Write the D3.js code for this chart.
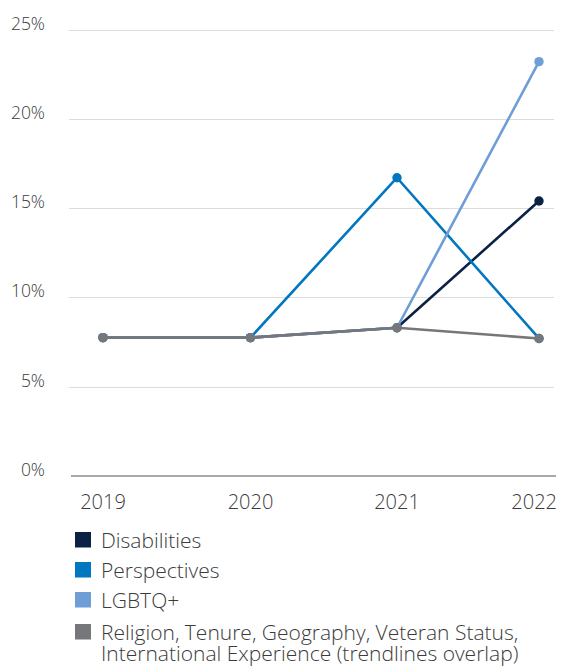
<!DOCTYPE html>
<html>
<head>
<meta charset="utf-8">
<script src="https://cdn.jsdelivr.net/npm/d3@7"></script>
<style>
  html, body { margin: 0; padding: 0; background: #fff; }
  svg { display: block; font-family: "Open Sans", sans-serif; font-weight: 300; }
</style>
</head>
<body>
<svg id="chart" width="561" height="666"></svg>
<script>
// Share of employees by dimension, 2019–2022 (percent)
const years = ["2019", "2020", "2021", "2022"];
const disabilities = [7.75, 7.75, 8.3, 15.4];
const perspectives = [7.75, 7.75, 16.7, 7.7];
const lgbtq = [7.75, 7.75, 8.3, 23.2];
const otherDims = [7.75, 7.75, 8.3, 7.7];
const yTicks = [0, 5, 10, 15, 20, 25];
const seriesNames = [
  "Disabilities",
  "Perspectives",
  "LGBTQ+",
  "Religion, Tenure, Geography, Veteran Status,|International Experience (trendlines overlap)"
];
const seriesColors = ["#0b2244", "#0077c0", "#6f9ed6", "#76777a"];

const series = [disabilities, perspectives, lgbtq, otherDims].map((vals, i) => ({
  name: seriesNames[i],
  color: seriesColors[i],
  points: vals.map((v, j) => ({ year: years[j], value: v }))
}));

const svg = d3.select("#chart");

const x = d3.scaleOrdinal()
  .domain(years)
  .range([103, 250.5, 397, 539]);

const y = d3.scaleLinear()
  .domain([0, 25])
  .range([476, 29.5]);

// Horizontal gridlines
svg.append("g")
  .selectAll("line")
  .data(yTicks.filter(d => d > 0))
  .join("line")
  .attr("x1", 69).attr("x2", 554)
  .attr("y1", d => Math.round(y(d)) + 0.5)
  .attr("y2", d => Math.round(y(d)) + 0.5)
  .attr("stroke", "#dcdcdc")
  .attr("stroke-width", 1);

// Baseline
svg.append("line")
  .attr("x1", 71).attr("x2", 556)
  .attr("y1", y(0)).attr("y2", y(0))
  .attr("stroke", "#8c8c8c")
  .attr("stroke-width", 1.6);

// Y labels sit on their gridlines
svg.append("g")
  .selectAll("text")
  .data(yTicks)
  .join("text")
  .attr("x", 45)
  .attr("y", d => y(d))
  .attr("text-anchor", "end")
  .attr("font-size", 17.5)
  .attr("fill", "#3b3b3b")
  .text(d => d + "%");

// X labels
const xl = svg.append("g")
  .selectAll("text")
  .data(years)
  .join("text")
  .attr("x", d => x(d))
  .attr("y", 509)
  .attr("text-anchor", "middle")
  .attr("font-size", 20)
  .attr("fill", "#3b3b3b")
  .text(d => d);
// keep the last label inside the plot edge
xl.each(function () {
  const b = this.getBBox();
  if (b.x + b.width > 557) {
    d3.select(this).attr("x", +d3.select(this).attr("x") - (b.x + b.width - 557));
  }
});

// Lines and markers
const line = d3.line()
  .x(d => x(d.year))
  .y(d => y(d.value));

const sg = svg.append("g")
  .selectAll("g")
  .data(series)
  .join("g");

sg.append("path")
  .attr("d", d => line(d.points))
  .attr("fill", "none")
  .attr("stroke", d => d.color)
  .attr("stroke-width", 2.6)
  .attr("stroke-linejoin", "round");

sg.selectAll("circle")
  .data(d => d.points.map(p => ({ ...p, color: d.color })))
  .join("circle")
  .attr("cx", d => x(d.year))
  .attr("cy", d => y(d.value))
  .attr("r", 4.7)
  .attr("fill", d => d.color);

// Legend
const legendRows = [547.5, 577.5, 607.5, 639.5];
const lg = svg.append("g")
  .selectAll("g")
  .data(series)
  .join("g");

lg.append("rect")
  .attr("x", 75)
  .attr("y", (d, i) => legendRows[i] - 15.5)
  .attr("width", 16)
  .attr("height", 15.5)
  .attr("fill", d => d.color);

lg.append("text")
  .attr("x", 101)
  .attr("y", (d, i) => legendRows[i])
  .attr("font-size", 21)
  .attr("fill", "#3b3b3b")
  .selectAll("tspan")
  .data(d => d.name.split("|"))
  .join("tspan")
  .attr("x", 101)
  .attr("dy", (d, i) => i === 0 ? 0 : 21)
  .text(d => d);
</script>
</body>
</html>
